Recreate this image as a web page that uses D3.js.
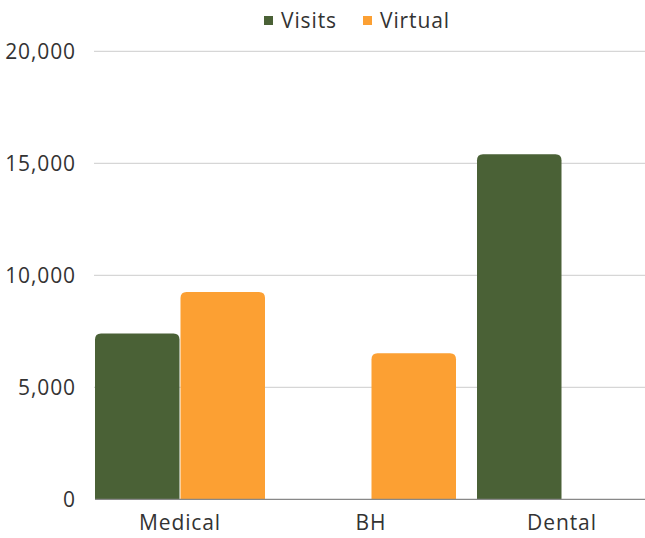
<!DOCTYPE html>
<html><head><meta charset="utf-8">
<script src="https://cdn.jsdelivr.net/npm/d3@7"></script>
<style>body{margin:0;background:#fff}svg{display:block}</style>
</head><body>
<script>
const categories = ["Medical", "BH", "Dental"];
const seriesNames = ["Visits", "Virtual"];
const visits = [7400, 0, 15400];
const virtual = [9260, 6520, 0];
const yTicks = [0, 5000, 10000, 15000, 20000];
const colors = ["#4a6136", "#fca033"];

const W = 645, H = 538;
const svg = d3.select("body").append("svg").attr("width", W).attr("height", H);
const font = "Open Sans, sans-serif";
const ls = "0.9px";
const y = d3.scaleLinear().domain([0, 20000]).range([499.3, 51.3]);
const x = d3.scaleBand().domain(categories).range([84.5, 657.5]).padding(0);
const xs = d3.scaleBand().domain(seriesNames).range([10, 181]).padding(0);

// gridlines
svg.append("g").selectAll("line").data(yTicks.filter(d => d > 0)).join("line")
  .attr("x1", 94).attr("x2", W).attr("y1", d => y(d)).attr("y2", d => y(d))
  .attr("stroke", "#cccccc").attr("stroke-width", 1);

// y labels
svg.append("g").selectAll("text").data(yTicks).join("text")
  .attr("x", 76).attr("y", d => y(d)).attr("dy", "0.36em")
  .attr("text-anchor", "end").attr("font-family", font).attr("font-size", 21)
  .attr("letter-spacing", ls)
  .attr("fill", "#333").text(d => d3.format(",")(d));

const data = [visits, virtual];
function topRounded(x0, y0, w, h, r) {
  r = Math.min(r, h, w / 2);
  return `M${x0},${y0 + h}V${y0 + r}Q${x0},${y0} ${x0 + r},${y0}H${x0 + w - r}Q${x0 + w},${y0} ${x0 + w},${y0 + r}V${y0 + h}Z`;
}
seriesNames.forEach((s, si) => {
  svg.append("g").selectAll("path").data(categories.map((c, i) => ({ c, v: data[si][i] })).filter(d => d.v > 0))
    .join("path")
    .attr("fill", colors[si])
    .attr("d", d => {
      const x0 = x(d.c) + xs(s) + 0.5;
      const w = xs.bandwidth() - 1;
      return topRounded(x0, y(d.v), w, y(0) - y(d.v), 6);
    });
});

// baseline
svg.append("line").attr("x1", 95).attr("x2", W).attr("y1", y(0)).attr("y2", y(0))
  .attr("stroke", "#888").attr("stroke-width", 1.2);

// x labels
svg.append("g").selectAll("text").data(categories).join("text")
  .attr("x", d => x(d) + x.bandwidth() / 2).attr("y", 530)
  .attr("text-anchor", "middle").attr("font-family", font).attr("font-size", 21)
  .attr("letter-spacing", ls)
  .attr("fill", "#333").text(d => d);

// legend
const legX = [264, 363];
const leg = svg.append("g");
seriesNames.forEach((s, i) => {
  leg.append("rect").attr("x", legX[i]).attr("y", 16).attr("width", 9).attr("height", 9).attr("fill", colors[i]);
  leg.append("text").attr("x", legX[i] + 17).attr("y", 28).attr("font-family", font).attr("font-size", 21)
    .attr("letter-spacing", ls)
    .attr("fill", "#333").text(s);
});
</script>
</body></html>
